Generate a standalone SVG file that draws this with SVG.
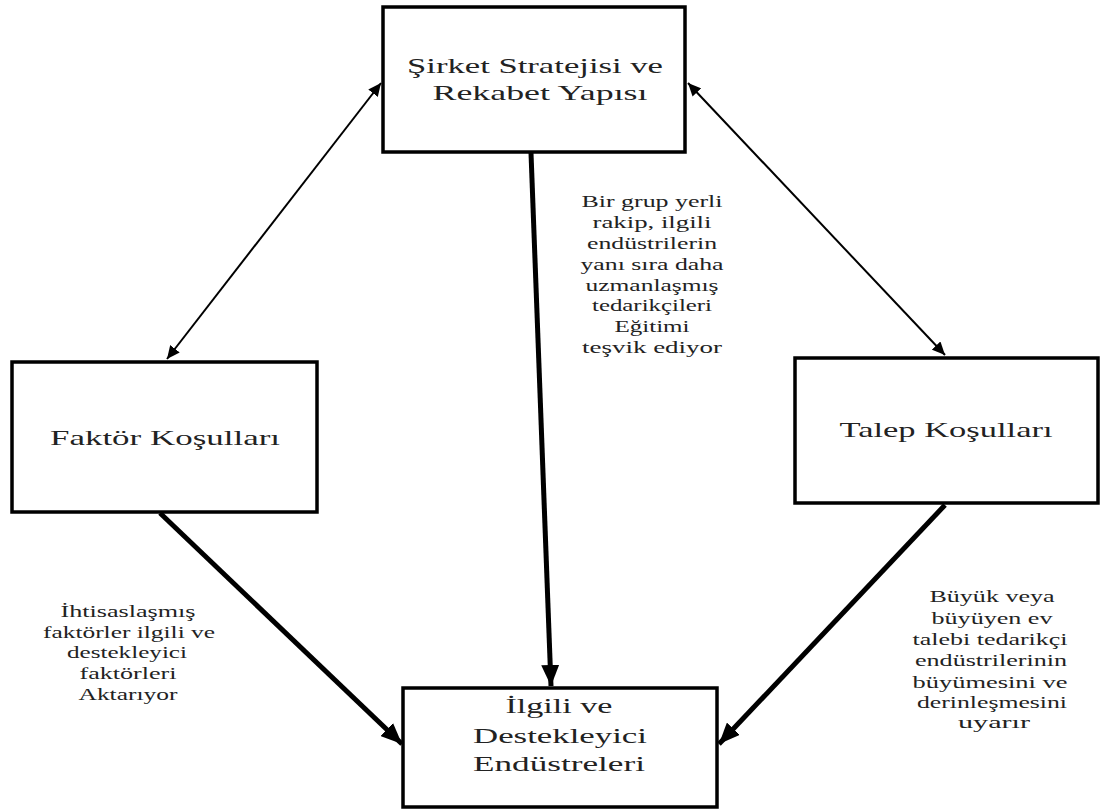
<svg xmlns="http://www.w3.org/2000/svg" width="1106" height="811" viewBox="0 0 1106 811">
<style>
.box{fill:#fff;stroke:#000;stroke-width:3.5}
.t{font-family:"Liberation Serif","Times New Roman",serif;fill:#222;text-anchor:middle}
.big{font-size:22px}
.sm{font-size:16px}
.thin{stroke:#000;stroke-width:2;fill:none}
.thick{stroke:#000;stroke-width:5;fill:none}
</style>
<defs>
<marker id="ah" markerUnits="userSpaceOnUse" markerWidth="14" markerHeight="12" refX="13" refY="6" orient="auto-start-reverse"><path d="M0,0 L13,6 L0,12 z" fill="#000"/></marker>
<marker id="ahb" markerUnits="userSpaceOnUse" markerWidth="22" markerHeight="18" refX="21" refY="9" orient="auto"><path d="M0,0 L21,9 L0,18 z" fill="#000"/></marker>
</defs>
<g id="connectors">
<line class="thin" x1="381" y1="83" x2="167" y2="359" marker-start="url(#ah)" marker-end="url(#ah)"/>
<line class="thin" x1="688" y1="83" x2="945" y2="355" marker-start="url(#ah)" marker-end="url(#ah)"/>
<line class="thick" x1="531" y1="153" x2="551" y2="686" marker-end="url(#ahb)"/>
<line class="thick" x1="160" y1="513" x2="402" y2="744" marker-end="url(#ahb)"/>
<line class="thick" x1="945" y1="505" x2="719" y2="744" marker-end="url(#ahb)"/>
</g>
<g id="node-sirket">
<rect class="box" x="383" y="7" width="302" height="145"/>
<text class="t big" x="535" y="73" textLength="256" lengthAdjust="spacingAndGlyphs">Şirket Stratejisi ve</text>
<text class="t big" x="540" y="100" textLength="215" lengthAdjust="spacingAndGlyphs">Rekabet Yapısı</text>
</g>
<g id="node-faktor">
<rect class="box" x="12" y="362" width="305" height="150"/>
<text class="t big" x="165" y="445" textLength="230" lengthAdjust="spacingAndGlyphs">Faktör Koşulları</text>
</g>
<g id="node-talep">
<rect class="box" x="795" y="358" width="303" height="145"/>
<text class="t big" x="946" y="437" textLength="213" lengthAdjust="spacingAndGlyphs">Talep Koşulları</text>
</g>
<g id="node-ilgili">
<rect class="box" x="403" y="688" width="314" height="119"/>
<text class="t big" x="559" y="713" textLength="107" lengthAdjust="spacingAndGlyphs">İlgili ve</text>
<text class="t big" x="560" y="743" textLength="174" lengthAdjust="spacingAndGlyphs">Destekleyici</text>
<text class="t big" x="559" y="771" textLength="172" lengthAdjust="spacingAndGlyphs">Endüstreleri</text>
</g>
<g id="label-middle" class="t sm">
<text x="652" y="207" textLength="141" lengthAdjust="spacingAndGlyphs">Bir grup yerli</text>
<text x="652" y="228" textLength="119" lengthAdjust="spacingAndGlyphs">rakip, ilgili</text>
<text x="652" y="249" textLength="130" lengthAdjust="spacingAndGlyphs">endüstrilerin</text>
<text x="652" y="270" textLength="143" lengthAdjust="spacingAndGlyphs">yanı sıra daha</text>
<text x="652" y="291" textLength="133" lengthAdjust="spacingAndGlyphs">uzmanlaşmış</text>
<text x="652" y="311" textLength="120" lengthAdjust="spacingAndGlyphs">tedarikçileri</text>
<text x="652" y="332" textLength="75" lengthAdjust="spacingAndGlyphs">Eğitimi</text>
<text x="652" y="353" textLength="140" lengthAdjust="spacingAndGlyphs">teşvik ediyor</text>
</g>
<g id="label-left" class="t sm">
<text x="128" y="617" textLength="135" lengthAdjust="spacingAndGlyphs">İhtisaslaşmış</text>
<text x="129" y="638" textLength="172" lengthAdjust="spacingAndGlyphs">faktörler ilgili ve</text>
<text x="127" y="658" textLength="120" lengthAdjust="spacingAndGlyphs">destekleyici</text>
<text x="128" y="679" textLength="97" lengthAdjust="spacingAndGlyphs">faktörleri</text>
<text x="128" y="700" textLength="99" lengthAdjust="spacingAndGlyphs">Aktarıyor</text>
</g>
<g id="label-right" class="t sm">
<text x="992" y="602" textLength="125" lengthAdjust="spacingAndGlyphs">Büyük veya</text>
<text x="992" y="624" textLength="121" lengthAdjust="spacingAndGlyphs">büyüyen ev</text>
<text x="990" y="645" textLength="155" lengthAdjust="spacingAndGlyphs">talebi tedarikçi</text>
<text x="991" y="666" textLength="152" lengthAdjust="spacingAndGlyphs">endüstrilerinin</text>
<text x="990" y="688" textLength="155" lengthAdjust="spacingAndGlyphs">büyümesini ve</text>
<text x="992" y="708" textLength="150" lengthAdjust="spacingAndGlyphs">derinleşmesini</text>
<text x="994" y="728" textLength="72" lengthAdjust="spacingAndGlyphs">uyarır</text>
</g>
</svg>
